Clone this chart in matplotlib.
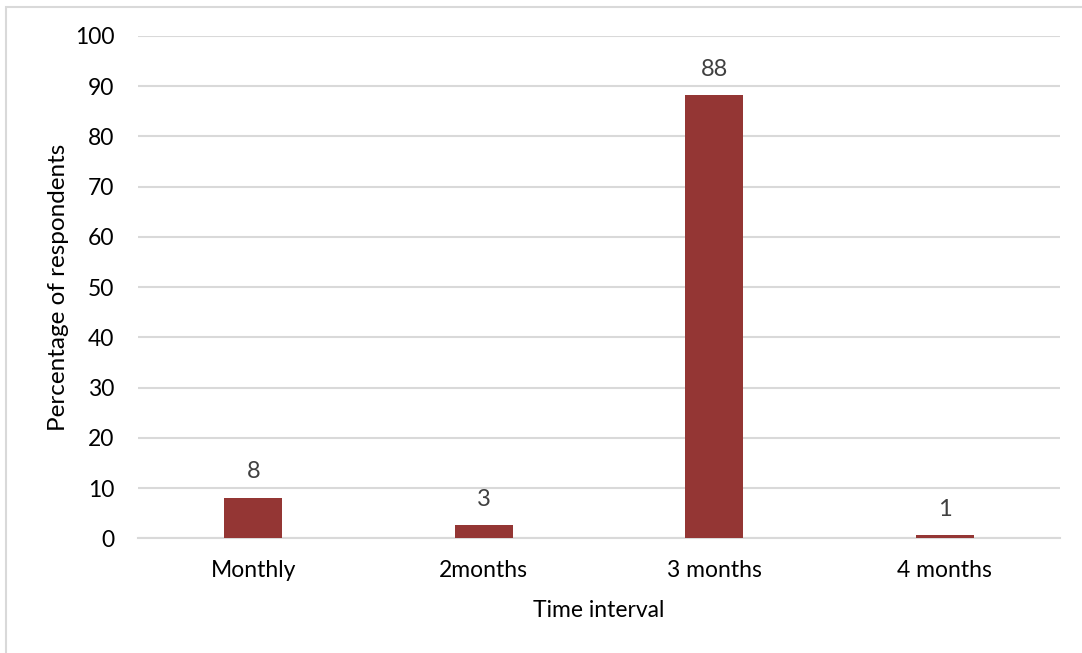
import matplotlib.pyplot as plt
from matplotlib.patches import Rectangle

# Survey results: how often respondents do it
categories = ["Monthly", "2months", "3 months", "4 months"]
percentages = [8.1, 2.6, 88.2, 0.6]
y_ticks = list(range(0, 101, 10))

plt.rcParams['font.family'] = ['Lato', 'DejaVu Sans']

fig = plt.figure(figsize=(10.82, 6.53), dpi=100)
ax = fig.add_axes([0.1275, 0.1757, 0.8522, 0.7692])

# light frame around the chart area
fig.patches.append(Rectangle((6 / 1082, -0.1), 1.2, (653 - 7) / 653 + 0.1,
                             transform=fig.transFigure, fill=False,
                             edgecolor='#d9d9d9', linewidth=1.5))

x = range(len(categories))
bars = ax.bar(x, percentages, width=0.25, color='#943634', zorder=3)

for rect, v in zip(bars, percentages):
    ax.annotate(f"{v:.0f}", (rect.get_x() + rect.get_width() / 2, rect.get_height()),
                xytext=(0, 14), textcoords='offset points',
                ha='center', va='baseline', fontsize=17, color='#404040')

ax.set_xlim(-0.5, len(categories) - 0.5)
ax.set_ylim(0, 100)
ax.set_yticks(y_ticks)
ax.set_xticks(list(x))
ax.set_xticklabels(categories)
ax.tick_params(axis='both', length=0, labelsize=16.5, colors='black')
ax.tick_params(axis='y', pad=17)
ax.tick_params(axis='x', pad=16)

ax.grid(axis='y', color='#d9d9d9', linewidth=1.5, zorder=0)
for side in ['top', 'right', 'left']:
    ax.spines[side].set_visible(False)
ax.spines['bottom'].set_color('#d9d9d9')
ax.spines['bottom'].set_linewidth(1.5)

ax.set_xlabel("Time interval", fontsize=16.5, labelpad=13)
ax.set_ylabel("Percentage of respondents", fontsize=17.5, labelpad=4)

fig.savefig("out.png", dpi=100)
